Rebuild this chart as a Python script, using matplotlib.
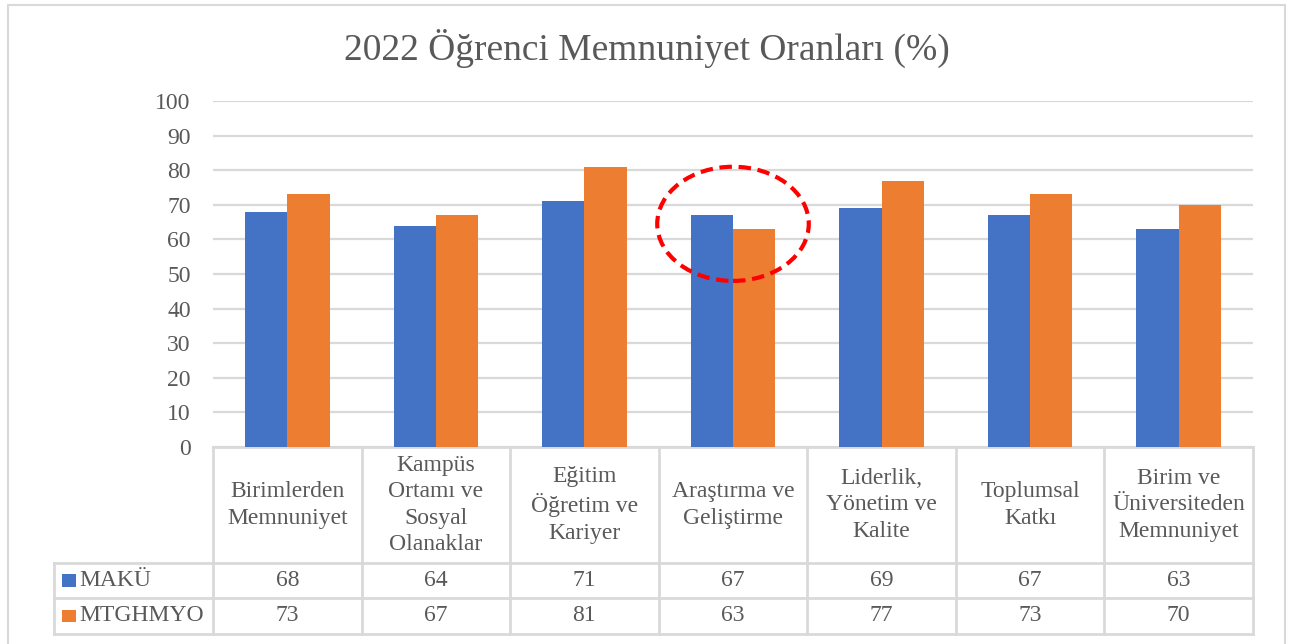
import matplotlib.pyplot as plt
import matplotlib.transforms as mtransforms
from matplotlib.patches import Ellipse, Rectangle
import numpy as np

plt.rcParams['font.family'] = ['Liberation Serif', 'DejaVu Serif']

# chart data
categories = ['Birimlerden\nMemnuniyet', 'Kampüs\nOrtamı ve\nSosyal\nOlanaklar',
              'Eğitim\nÖğretim ve\nKariyer', 'Araştırma ve\nGeliştirme',
              'Liderlik,\nYönetim ve\nKalite', 'Toplumsal\nKatkı',
              'Birim ve\nÜniversiteden\nMemnuniyet']
series_names = ['MAKÜ', 'MTGHMYO']
maku = [68, 64, 71, 67, 69, 67, 63]
mtghmyo = [73, 67, 81, 63, 77, 73, 70]
colors = ['#4472C4', '#ED7D31']

grey = '#595959'
line_grey = '#d9d9d9'
fs = 17

fig = plt.figure(figsize=(13, 6.44), dpi=100)
ax = fig.add_axes([213/1300, 1 - 447/644, 1040/1300, 346/644])

x = np.arange(len(categories))
w = 0.285
ax.bar(x - w/2, maku, w, color=colors[0], zorder=3)
ax.bar(x + w/2, mtghmyo, w, color=colors[1], zorder=3)

ax.set_xlim(-0.5, len(categories) - 0.5)
ax.set_ylim(0, 100)
ax.set_yticks(range(0, 101, 10))
ax.yaxis.grid(True, color=line_grey, linewidth=1.6, zorder=0)
ax.tick_params(axis='y', length=0, pad=16, labelsize=fs, labelcolor=grey)
ax.set_xticks([])
for s in ['top', 'right', 'left', 'bottom']:
    ax.spines[s].set_visible(False)

# highlight ellipse around Araştırma ve Geliştirme
ax.add_patch(Ellipse((3, 64.5), 1.02, 33, fill=False, edgecolor='#FF0000',
                     linestyle=(0, (3, 1.6)), linewidth=3, zorder=5, clip_on=False))

# data table under the axis
tr = mtransforms.blended_transform_factory(ax.transData, ax.transAxes)
y_head = -0.335
y_rows = [-0.335, -0.436, -0.540]
x_left = -1.57
n = len(categories)
lkw = dict(color=line_grey, linewidth=2, transform=tr, clip_on=False, zorder=1)

ax.plot([-0.5, n - 0.5], [0, 0], **lkw)
for yy in y_rows:
    ax.plot([x_left, n - 0.5], [yy, yy], **lkw)
for i in range(n + 1):
    ax.plot([i - 0.5, i - 0.5], [0, y_rows[-1]], **lkw)
ax.plot([x_left, x_left], [y_rows[0], y_rows[-1]], **lkw)

for i, cat in enumerate(categories):
    ax.text(i, y_head / 2, cat, transform=tr, ha='center', va='center',
            fontsize=fs, color=grey, linespacing=1.33)

for r, (name, vals) in enumerate([(series_names[0], maku), (series_names[1], mtghmyo)]):
    yc = (y_rows[r] + y_rows[r + 1]) / 2
    for i, v in enumerate(vals):
        ax.text(i, yc, str(v), transform=tr, ha='center', va='center',
                fontsize=fs, color=grey)
    ax.add_patch(Rectangle((x_left + 0.055, yc - 0.018), 0.09, 0.036,
                           facecolor=colors[r], transform=tr, clip_on=False))
    ax.text(x_left + 0.17, yc, name, transform=tr, ha='left', va='center',
            fontsize=fs, color=grey)

fig.text(647/1300, 1 - 48/644, '2022 Öğrenci Memnuniyet Oranları (%)',
         ha='center', va='center', fontsize=27, color=grey)

# chart border
fig.patches.append(Rectangle((8/1300, -0.02), 1277/1300, 1.02 - 5/644,
                             transform=fig.transFigure, fill=False,
                             edgecolor=line_grey, linewidth=1.5))

fig.savefig('out.png', dpi=100)
